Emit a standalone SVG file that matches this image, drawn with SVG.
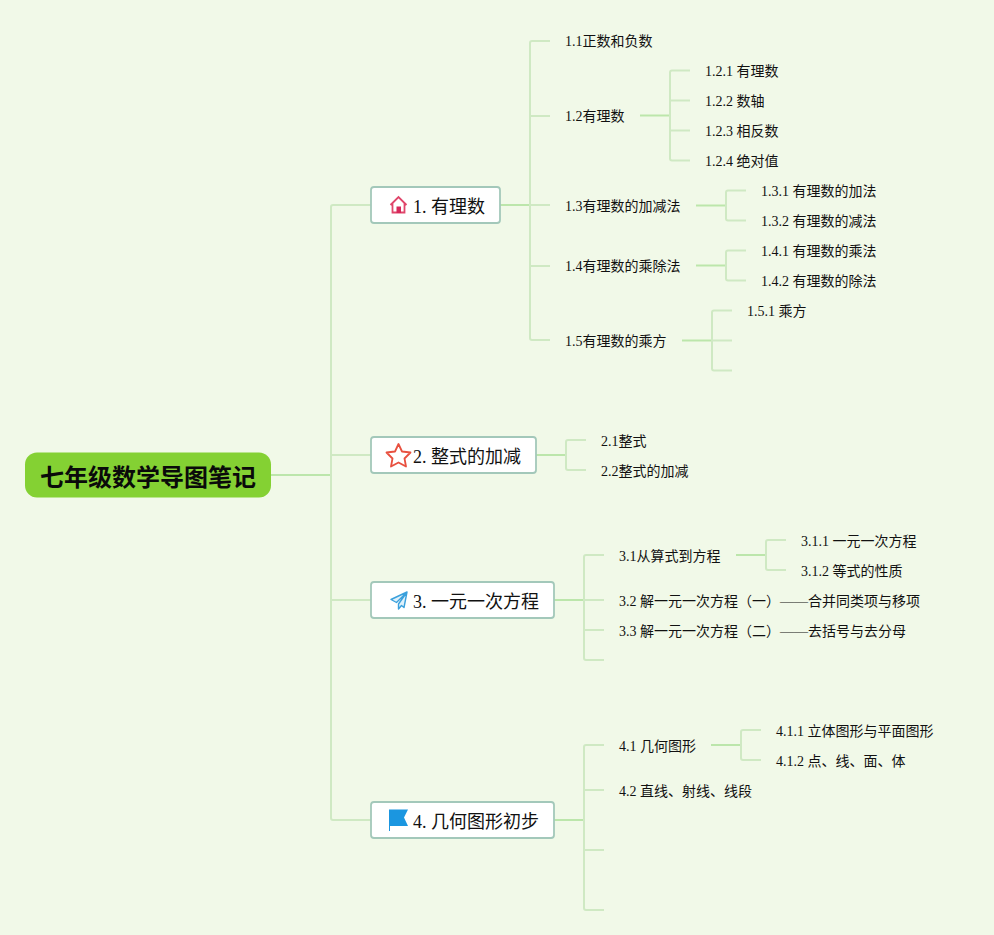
<svg xmlns="http://www.w3.org/2000/svg" width="994" height="935" viewBox="0 0 994 935">
<style>
text{font-family:"Liberation Serif","Noto Sans CJK SC",serif;fill:#111}
.s{font-size:14px}
.m{font-size:18px}
.r{font-size:24px;font-weight:700;fill:#0a0a0a;font-family:"Liberation Sans","Noto Sans CJK SC",sans-serif}
.box{fill:#fff;stroke:#a3c8ba;stroke-width:1.8}
#connectors path{fill:none;stroke-linejoin:round}
.c1{stroke:#cfe9c3;stroke-width:2}
.c2{stroke:#bce6ab;stroke-width:2}
</style>
<rect width="994" height="935" fill="#f1f9e8"/>
<g id="connectors">
<path class="c2" d="M271 475H331"/>
<path class="c1" d="M371 205H333Q331 205 331 207V818Q331 820 333 820H371M331 455H371M331 600H371"/>
<path class="c2" d="M500 205H530"/>
<path class="c1" d="M550 41H532Q530 41 530 43V338Q530 340 532 340H550M530 116H550M530 205H550M530 266H550"/>
<path class="c2" d="M640 115.500H670"/>
<path class="c1" d="M690 70.500H672Q670 70.500 670 72.500V158.500Q670 160.500 672 160.500H690M670 100.500H690M670 130.500H690"/>
<path class="c2" d="M696 205.500H726"/>
<path class="c1" d="M746 190.500H728Q726 190.500 726 192.500V218.500Q726 220.500 728 220.500H746"/>
<path class="c2" d="M696 265.500H726"/>
<path class="c1" d="M746 250.500H728Q726 250.500 726 252.500V278.500Q726 280.500 728 280.500H746"/>
<path class="c2" d="M682 340.500H712"/>
<path class="c1" d="M732 310.500H714Q712 310.500 712 312.500V368.500Q712 370.500 714 370.500H732M712 340.500H732"/>
<path class="c2" d="M536 455H566"/>
<path class="c1" d="M586 440H568Q566 440 566 442V468Q566 470 568 470H586"/>
<path class="c2" d="M554 600H584"/>
<path class="c1" d="M604 555H586Q584 555 584 557V658Q584 660 586 660H604M584 600H604M584 630H604"/>
<path class="c2" d="M736 555H766"/>
<path class="c1" d="M786 540H768Q766 540 766 542V568Q766 570 768 570H786"/>
<path class="c2" d="M554 820H584"/>
<path class="c1" d="M604 745H586Q584 745 584 747V908Q584 910 586 910H604M584 790H604M584 850H604"/>
<path class="c2" d="M711 745H741"/>
<path class="c1" d="M761 730H743Q741 730 741 732V758Q741 760 743 760H761"/>
</g>
<g id="root"><rect x="25" y="452.500" width="246" height="45" rx="12" fill="#84d133"/><text class="r" x="148" y="486" text-anchor="middle">七年级数学导图笔记</text></g>
<g id="n1"><rect class="box" x="371" y="187" width="129" height="36" rx="3"/>
<path d="M390.500 205L398.500 197L406.500 205M392.500 203.500V212.500H404.500V203.500" fill="none" stroke="#e0466b" stroke-width="1.800"/><rect x="396.500" y="206.500" width="4.500" height="6.500" fill="#d6285a"/>
<text class="m" x="413" y="212.500">1. 有理数</text></g>
<g id="n2"><rect class="box" x="371" y="437" width="165" height="36" rx="3"/>
<path d="M398.500 444L402 451.500L410.500 452.500L404.500 458.500L406 466.500L398.500 462.500L391 466.500L392.500 458.500L386.500 452.500L395 451.500Z" fill="#fff" stroke="#e8503f" stroke-width="1.800" stroke-linejoin="round"/>
<text class="m" x="413" y="462.500">2. 整式的加减</text></g>
<g id="n3"><rect class="box" x="371" y="582" width="183" height="36" rx="3"/>
<path d="M407 592L391 599.500L396.500 602.500L407 592L398.500 604V609L401.500 605.500L404 607.500Z" fill="#dff1fb" stroke="#3aa0dc" stroke-width="1.400" stroke-linejoin="round"/>
<text class="m" x="413" y="607.500">3. 一元一次方程</text></g>
<g id="n4"><rect class="box" x="371" y="802" width="183" height="36" rx="3"/>
<path d="M389 809.500H408L404 817.500L408 826H390V831H389Z" fill="#1b96e0"/>
<text class="m" x="413" y="827.500">4. 几何图形初步</text></g>
<g id="n1-1"><text class="s" x="565" y="46">1.1正数和负数</text></g>
<g id="n1-2"><text class="s" x="565" y="121">1.2有理数</text></g>
<g id="n1-2-1"><text class="s" x="705" y="76">1.2.1 有理数</text></g>
<g id="n1-2-2"><text class="s" x="705" y="106">1.2.2 数轴</text></g>
<g id="n1-2-3"><text class="s" x="705" y="136">1.2.3 相反数</text></g>
<g id="n1-2-4"><text class="s" x="705" y="166">1.2.4 绝对值</text></g>
<g id="n1-3"><text class="s" x="565" y="211">1.3有理数的加减法</text></g>
<g id="n1-3-1"><text class="s" x="761" y="196">1.3.1 有理数的加法</text></g>
<g id="n1-3-2"><text class="s" x="761" y="226">1.3.2 有理数的减法</text></g>
<g id="n1-4"><text class="s" x="565" y="271">1.4有理数的乘除法</text></g>
<g id="n1-4-1"><text class="s" x="761" y="256">1.4.1 有理数的乘法</text></g>
<g id="n1-4-2"><text class="s" x="761" y="286">1.4.2 有理数的除法</text></g>
<g id="n1-5"><text class="s" x="565" y="346">1.5有理数的乘方</text></g>
<g id="n1-5-1"><text class="s" x="747" y="316">1.5.1 乘方</text></g>
<g id="n2-1"><text class="s" x="601" y="446">2.1整式</text></g>
<g id="n2-2"><text class="s" x="601" y="476">2.2整式的加减</text></g>
<g id="n3-1"><text class="s" x="619" y="561">3.1从算式到方程</text></g>
<g id="n3-1-1"><text class="s" x="801" y="546">3.1.1 一元一次方程</text></g>
<g id="n3-1-2"><text class="s" x="801" y="576">3.1.2 等式的性质</text></g>
<g id="n3-2"><text class="s" x="619" y="606">3.2 解一元一次方程（一）——合并同类项与移项</text></g>
<g id="n3-3"><text class="s" x="619" y="636">3.3 解一元一次方程（二）——去括号与去分母</text></g>
<g id="n4-1"><text class="s" x="619" y="751">4.1 几何图形</text></g>
<g id="n4-1-1"><text class="s" x="776" y="736">4.1.1 立体图形与平面图形</text></g>
<g id="n4-1-2"><text class="s" x="776" y="766">4.1.2 点、线、面、体</text></g>
<g id="n4-2"><text class="s" x="619" y="796">4.2 直线、射线、线段</text></g>
</svg>
